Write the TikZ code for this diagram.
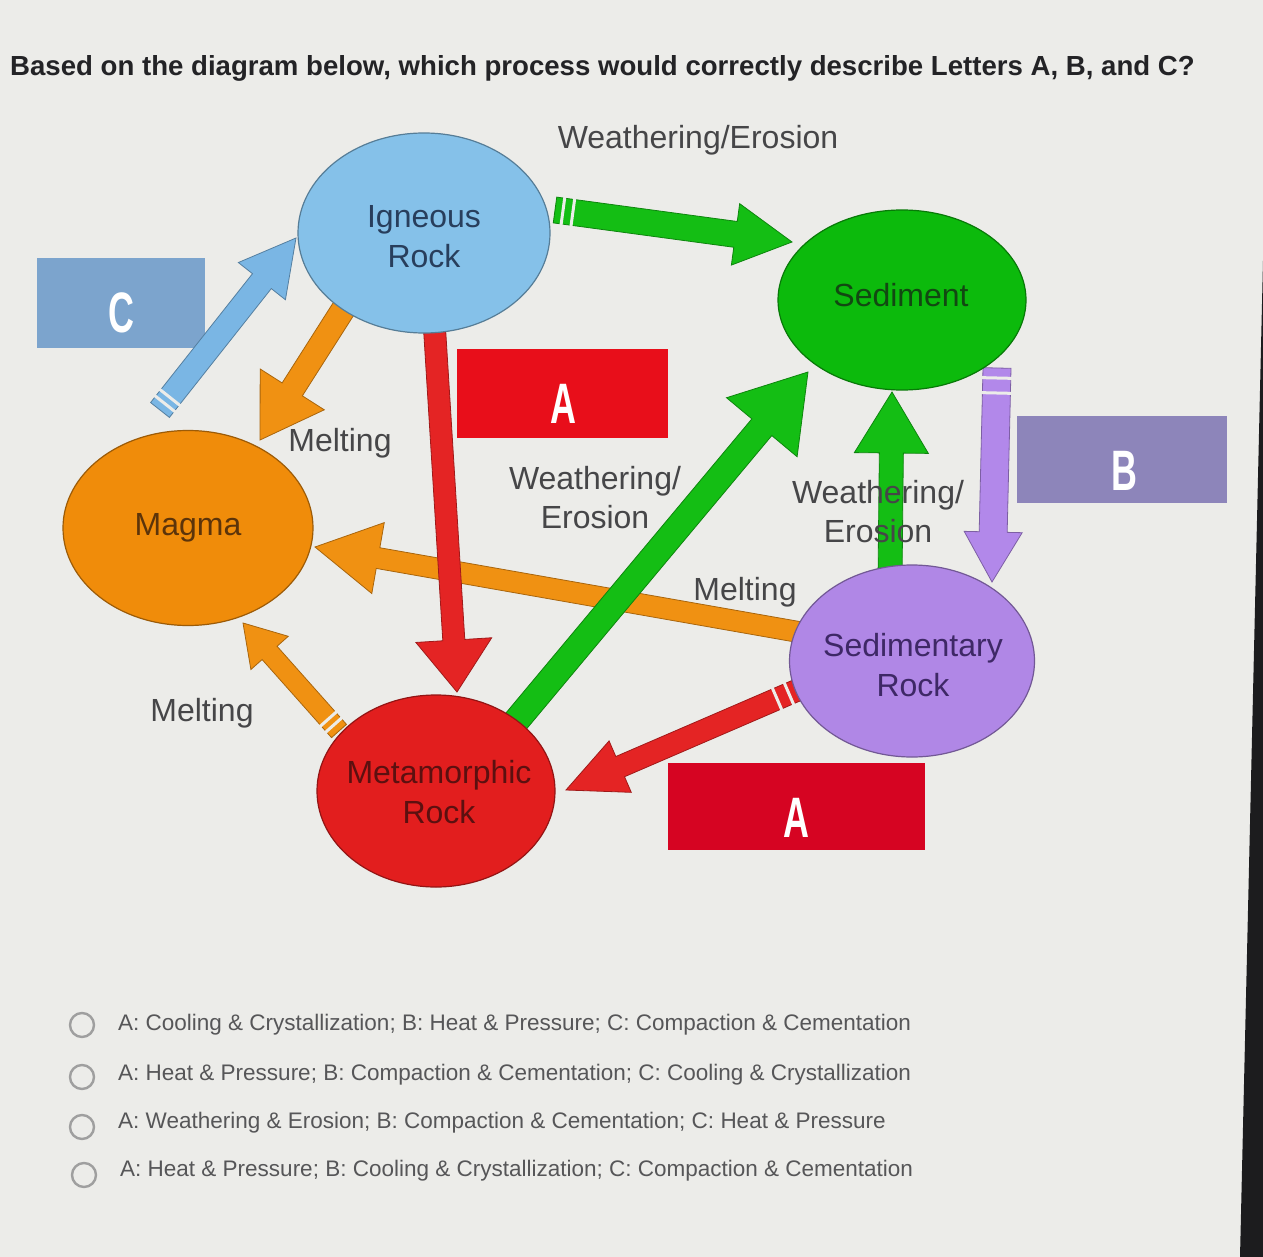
\documentclass[tikz,border=0pt]{standalone}
\usepackage{fontspec}
\setmainfont{Liberation Sans}
\usetikzlibrary{shapes.geometric,calc}
\definecolor{bgc}{RGB}{236,236,233}
\definecolor{edgec}{RGB}{28,28,30}
\definecolor{titlec}{RGB}{35,35,38}
\definecolor{labelc}{RGB}{70,70,72}
\definecolor{optc}{RGB}{86,86,88}
\definecolor{ignc}{RGB}{133,193,233}
\definecolor{bluearr}{RGB}{122,182,228}
\definecolor{cboxc}{RGB}{124,164,205}
\definecolor{sedc}{RGB}{12,186,12}
\definecolor{greenarr}{RGB}{20,190,20}
\definecolor{magc}{RGB}{240,140,10}
\definecolor{orarr}{RGB}{240,145,18}
\definecolor{metc}{RGB}{226,30,30}
\definecolor{redarr}{RGB}{228,36,36}
\definecolor{sdrc}{RGB}{176,135,230}
\definecolor{purarr}{RGB}{178,136,234}
\definecolor{aboxc}{RGB}{232,14,26}
\definecolor{abox2c}{RGB}{214,4,34}
\definecolor{bboxc}{RGB}{141,133,186}
\newcommand{\nodefont}{\fontsize{32}{40}\selectfont}
\newcommand{\lblfont}{\fontsize{32}{39}\selectfont}
\newcommand{\optfont}{\fontsize{22.5}{27}\selectfont}
\newcommand{\letterfont}{\fontsize{57}{60}\selectfont\bfseries}
% block arrow: style, tail, tip, shaft half, head half, head length
\newcommand{\blockarr}[6]{%
  \coordinate (hb) at ($(#3)!#6!(#2)$);
  \path[#1] ($(#2)!#4!90:(#3)$) -- ($(hb)!#4!90:(#3)$) -- ($(hb)!#5!90:(#3)$)
    -- (#3) -- ($(hb)!#5!-90:(#3)$) -- ($(hb)!#4!-90:(#3)$) -- ($(#2)!#4!-90:(#3)$) -- cycle;}
% gaps near the tail: tail, tip, half length, list of distances
\newcommand{\tailgaps}[4]{%
  \foreach \d in {#4}{%
    \coordinate (sg) at ($(#1)!\d!(#2)$);
    \draw[bgc, line width=3pt] ($(sg)!#3!90:(#2)$) -- ($(sg)!#3!-90:(#2)$);}}
\tikzset{
  rock/.style={ellipse, draw=#1!65!black, line width=1.2pt, fill=#1, inner sep=0pt},
  rocktext/.style={align=center, font=\nodefont, inner sep=0pt},
  lbl/.style={font=\lblfont, text=labelc, align=center, inner sep=0pt},
  letterbox/.style={fill=#1, draw=none},
  letter/.style={text=white, font=\letterfont, inner sep=0pt},
  barrow/.style={fill=#1, draw=#1!70!black, line width=0.8pt, line join=miter},
  optcirc/.style={draw=gray!75, line width=2.4pt},
  opttext/.style={font=\optfont, text=optc, anchor=west, inner sep=0pt}
}
\begin{document}
\begin{tikzpicture}[x=1pt,y=-1pt]
\useasboundingbox (0,0) rectangle (1263,1257);
\fill[bgc] (0,0) rectangle (1263,1257);
\fill[edgec] (1263,260) -- (1263,1257) -- (1240,1257) -- cycle;

% title
\node[anchor=west, inner sep=0pt, text=titlec, font=\fontsize{27.6}{32}\selectfont\bfseries] (title) at (10,68)
  {Based on the diagram below, which process would correctly describe Letters A, B, and C?};

% letter boxes
\fill[letterbox=cboxc] (37,258) rectangle (205,348);
\node[letter] (lc) at (121,313) {\scalebox{0.63}[1]{C}};
\fill[letterbox=aboxc] (457,349) rectangle (668,438);
\node[letter] (la1) at (563,404) {\scalebox{0.63}[1]{A}};
\fill[letterbox=bboxc] (1017,416) rectangle (1227,503);
\node[letter] (lb) at (1124,471) {\scalebox{0.63}[1]{B}};
\fill[letterbox=abox2c] (668,763) rectangle (925,850);
\node[letter] (la2) at (796,818) {\scalebox{0.63}[1]{A}};

% arrow end points
\coordinate (oL-t) at (810,634);  \coordinate (oL-h) at (315,547);
\coordinate (bC-t) at (160,410);  \coordinate (bC-h) at (296,238);
\coordinate (oI-t) at (346,305);  \coordinate (oI-h) at (260,440);
\coordinate (gT-t) at (555,210);  \coordinate (gT-h) at (792,242);
\coordinate (rV-t) at (434,320);  \coordinate (rV-h) at (457,692);
\coordinate (gD-t) at (512,726);  \coordinate (gD-h) at (808,372);
\coordinate (gU-t) at (890,580);  \coordinate (gU-h) at (892,392);
\coordinate (pD-t) at (997,368);  \coordinate (pD-h) at (992,582);
\coordinate (oM-t) at (339,731);  \coordinate (oM-h) at (243,623);
\coordinate (rB-t) at (800,689);  \coordinate (rB-h) at (566,790);

% arrows
\blockarr{barrow=orarr}{oL-t}{oL-h}{10.5pt}{36pt}{64pt}
\blockarr{barrow=bluearr}{bC-t}{bC-h}{12pt}{30pt}{55pt}
\tailgaps{bC-t}{bC-h}{15pt}{8pt,16pt}
\blockarr{barrow=orarr}{oI-t}{oI-h}{12pt}{38pt}{60pt}
\blockarr{barrow=greenarr}{gT-t}{gT-h}{13pt}{31pt}{57pt}
\tailgaps{gT-t}{gT-h}{16pt}{8pt,18pt}
\blockarr{barrow=redarr}{rV-t}{rV-h}{11pt}{38pt}{52pt}
\blockarr{barrow=greenarr}{gD-t}{gD-h}{13pt}{46pt}{72pt}
\blockarr{barrow=greenarr}{gU-t}{gU-h}{12pt}{37pt}{61pt}
\blockarr{barrow=purarr}{pD-t}{pD-h}{14pt}{29pt}{50pt}
\tailgaps{pD-t}{pD-h}{17pt}{10pt,25pt}
\blockarr{barrow=orarr}{oM-t}{oM-h}{10pt}{25pt}{40pt}
\tailgaps{oM-t}{oM-h}{13pt}{8pt,16pt}
\blockarr{barrow=redarr}{rB-t}{rB-h}{11pt}{28pt}{59pt}
\tailgaps{rB-t}{rB-h}{14pt}{12pt,25pt}

% rocks
\node[rock=ignc, minimum width=252pt, minimum height=200pt] (ign) at (424,233) {};
\node[rocktext, text={rgb,255:red,40;green,62;blue,92}] (ign-t) at (424,237) {Igneous\\Rock};
\node[rock=sedc, minimum width=248pt, minimum height=180pt] (sed) at (902,300) {};
\node[rocktext, text={rgb,255:red,18;green,72;blue,18}] (sed-t) at (901,295) {Sediment};
\node[rock=magc, minimum width=250pt, minimum height=195pt] (mag) at (188,528) {};
\node[rocktext, text={rgb,255:red,92;green,52;blue,10}] (mag-t) at (188,528) {Magma};
\node[rock=sdrc, minimum width=245pt, minimum height=192pt] (sdr) at (912,661) {};
\node[rocktext, text={rgb,255:red,62;green,40;blue,102}] (sdr-t) at (913,665) {Sedimentary\\Rock};
\node[rock=metc, minimum width=238pt, minimum height=192pt] (met) at (436,791) {};
\node[rocktext, text={rgb,255:red,92;green,16;blue,16}] (met-t) at (439,792) {Metamorphic\\Rock};

% process labels
\node[lbl] (we1) at (698,140) {Weathering/Erosion};
\node[lbl] (me1) at (340,443) {Melting};
\node[lbl] (we2) at (595,498) {Weathering/\\Erosion};
\node[lbl] (we3) at (878,512) {Weathering/\\Erosion};
\node[lbl] (me2) at (745,592) {Melting};
\node[lbl] (me3) at (202,713) {Melting};

% answer options
\draw[optcirc] (82,1025) circle (12);
\node[opttext] (o1) at (118,1025) {A: Cooling \& Crystallization; B: Heat \& Pressure; C: Compaction \& Cementation};
\draw[optcirc] (82,1077) circle (12);
\node[opttext] (o2) at (118,1075) {A: Heat \& Pressure; B: Compaction \& Cementation; C: Cooling \& Crystallization};
\draw[optcirc] (82,1127) circle (12);
\node[opttext] (o3) at (118,1123) {A: Weathering \& Erosion; B: Compaction \& Cementation; C: Heat \& Pressure};
\draw[optcirc] (84,1175) circle (12);
\node[opttext] (o4) at (120,1171) {A: Heat \& Pressure; B: Cooling \& Crystallization; C: Compaction \& Cementation};
\end{tikzpicture}
\end{document}
